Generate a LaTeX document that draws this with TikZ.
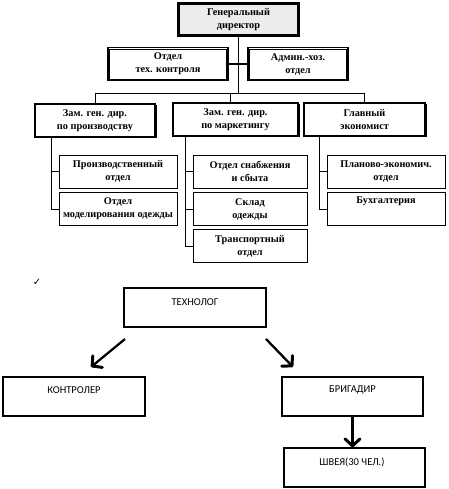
\documentclass[tikz,border=0pt]{standalone}
\usepackage{fontspec}
\setmainfont{Liberation Serif}
\newfontfamily\calib{Carlito}
\newfontfamily\dejavu{DejaVu Sans}
\usetikzlibrary{arrows.meta,shadows,calc}
\begin{document}
\begin{tikzpicture}[x=1pt,y=-1pt,
  tt/.style={font=\fontsize{10.3}{13}\selectfont\bfseries, align=center, inner sep=0pt},
  dirbox/.style={tt, draw, fill=gray!15, line width=1.6pt, minimum height=33pt},
  dblbox/.style={tt, draw, fill=white, line width=1.6pt, minimum height=33pt},
  zambox/.style={tt, draw, fill=white, line width=1.2pt, minimum height=33pt,
     general shadow={shadow xshift=1.5pt, shadow yshift=-1.5pt, fill=black}},
  subbox/.style={tt, draw, fill=white, line width=0.6pt, minimum height=33pt},
  inner/.style={line width=0.5pt},
  tline/.style={line width=0.6pt},
  lowbox/.style={draw, line width=1.3pt, inner sep=0pt},
  lowtext/.style={font=\calib\fontsize{10.5}{12}\selectfont, inner sep=0pt},
  bigarrow/.style={line width=2.3pt, -{Straight Barb[length=7pt,width=15pt,line width=3pt,round]}}
]
\useasboundingbox (0,0) rectangle (448,489);

% top chart
\node[dirbox, minimum width=121pt] (dir) at (238.5,19.5) {Генеральный\\директор};
\draw[inner] ($(dir.north west)+(2.5,2.5)$) rectangle ($(dir.south east)+(-2.5,-2.5)$);
\node[dblbox, minimum width=120pt] (otk) at (168,64) {Отдел\\тех. контроля};
\draw[inner] ($(otk.north west)+(2.5,2.5)$) rectangle ($(otk.south east)+(-2.5,-2.5)$);
\node[dblbox, minimum width=100pt] (ahc) at (298,64) {Админ.-хоз.\\отдел};
\draw[inner] ($(ahc.north west)+(2.5,2.5)$) rectangle ($(ahc.south east)+(-2.5,-2.5)$);

\node[zambox, minimum width=120pt] (zam1) at (95,120.5) {Зам. ген. дир.\\по производству};
\node[zambox, minimum width=125pt] (zam2) at (235.5,119.5) {Зам. ген. дир.\\по маркетингу};
\node[zambox, minimum width=121pt] (zam3) at (364.5,119.5) {Главный\\экономист};

\node[subbox, minimum width=118pt] (c11) at (118,171.5) {Производственный\\отдел};
\node[subbox, minimum width=118pt] (c12) at (118,209) {Отдел\\моделирования одежды};
\node[subbox, minimum width=114pt] (c21) at (250,171.5) {Отдел снабжения\\и сбыта};
\node[subbox, minimum width=114pt] (c22) at (250,209) {Склад\\одежды};
\node[subbox, minimum width=114pt] (c23) at (250,246) {Транспортный\\отдел};
\node[subbox, minimum width=118pt] (c31) at (386,171.5) {Планово-экономич.\\отдел};
\node[subbox, minimum width=118pt] (c32) at (386,209) {Бухгалтерия\\\strut};

\coordinate (busL) at (95,93);
\coordinate (busR) at (364.5,93);
\coordinate (bus2) at (230,93);
\draw[tline] (busL) -- (busR);
\draw[tline] (dir.south) -- (dir.south |- busL);
\draw[line width=1.3pt] (otk.east) -- (ahc.west);
\draw[tline] (busL) -- (zam1.north);
\draw[tline] (bus2) -- (bus2 |- zam2.north);
\draw[tline] (busR) -- (zam3.north);

\coordinate (v1) at (51,137);
\coordinate (v2) at (185,135);
\coordinate (v3) at (319,135);
\draw[tline] (v1) |- (c12.west);
\draw[tline] (v1 |- c11.west) -- (c11.west);
\draw[tline] (v2) |- (c23.west);
\draw[tline] (v2 |- c21.west) -- (c21.west);
\draw[tline] (v2 |- c22.west) -- (c22.west);
\draw[tline] (v3) |- (c32.west);
\draw[tline] (v3 |- c31.west) -- (c31.west);

% check mark
\node[font=\dejavu\fontsize{10}{11}\selectfont, inner sep=0pt] (chk) at (37,282) {✓};

% lower chart
\node[lowbox, minimum width=142pt, minimum height=39pt] (tech) at (195,307.5) {};
\node[lowtext] (techt) at (195,302) {ТЕХНОЛОГ};
\node[lowbox, minimum width=142pt, minimum height=39pt] (kon) at (74,396.5) {};
\node[lowtext] (kont) at (74,390) {КОНТРОЛЕР};
\node[lowbox, minimum width=141pt, minimum height=39pt] (brig) at (352.5,396.5) {};
\node[lowtext] (brigt) at (352.5,390) {БРИГАДИР};
\node[lowbox, minimum width=141pt, minimum height=39pt] (shv) at (354.5,467.5) {};
\node[lowtext] (shvt) at (352,462) {ШВЕЯ(30 ЧЕЛ.)};

\coordinate (a1s) at (125,339);
\coordinate (a1e) at (91,367);
\coordinate (a2s) at (266,339);
\coordinate (a2e) at (293,367);
\draw[bigarrow] (a1s) -- (a1e);
\draw[bigarrow] (a2s) -- (a2e);
\draw[bigarrow] (brig.south) -- (shv.north -| brig.south);
\end{tikzpicture}
\end{document}
